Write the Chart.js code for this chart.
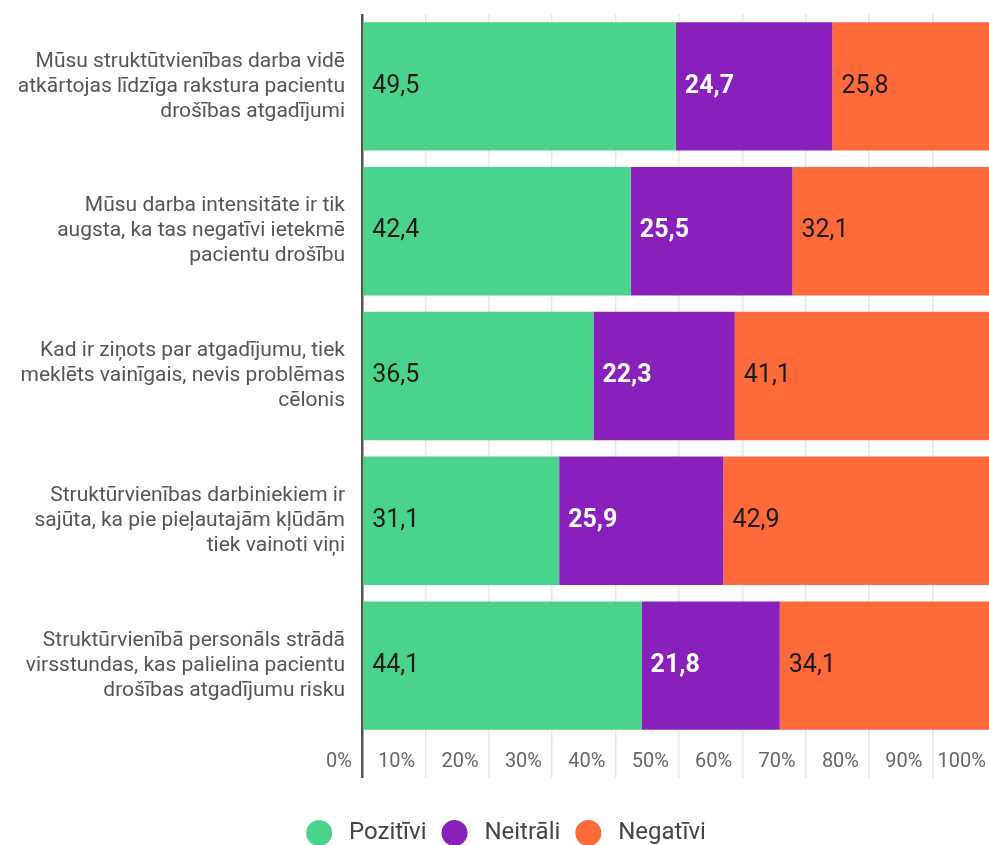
<!DOCTYPE html>
<html>
<head>
<meta charset="utf-8">
<script src="https://cdn.jsdelivr.net/npm/chart.js@4"></script>
<style>
  html, body { margin:0; padding:0; background:#fff; overflow:hidden; width:989px; height:845px; }
  canvas { display:block; }
</style>
</head>
<body>
<canvas id="chart" width="1000" height="845"></canvas>
<script>
// ── data ────────────────────────────────────────────────
const CATEGORIES = [
  ["Mūsu struktūtvienības darba vidē", "atkārtojas līdzīga rakstura pacientu", "drošības atgadījumi"],
  ["Mūsu darba intensitāte ir tik", "augsta, ka tas negatīvi ietekmē", "pacientu drošību"],
  ["Kad ir ziņots par atgadījumu, tiek", "meklēts vainīgais, nevis problēmas", "cēlonis"],
  ["Struktūrvienības darbiniekiem ir", "sajūta, ka pie pieļautajām kļūdām", "tiek vainoti viņi"],
  ["Struktūrvienībā personāls strādā", "virsstundas, kas palielina pacientu", "drošības atgadījumu risku"],
];
const SERIES = ["Pozitīvi", "Neitrāli", "Negatīvi"];
const POZITIVI = [49.5, 42.4, 36.5, 31.1, 44.1];
const NEITRALI = [24.7, 25.5, 22.3, 25.9, 21.8];
const NEGATIVI = [25.8, 32.1, 41.1, 42.9, 34.1];
const X_TICKS = [0, 10, 20, 30, 40, 50, 60, 70, 80, 90, 100];

const COLORS = ["#4ad48b", "#8a20bb", "#ff6a3a"];
const LABEL_COLORS = ["#1a1a1a", "#ffffff", "#1a1a1a"];
const FONT = "Roboto";

// value labels inside each segment, left aligned
const segLabels = {
  id: "segLabels",
  afterDatasetsDraw(chart){
    const ctx = chart.ctx;
    ctx.save();
    ctx.textAlign = "left";
    ctx.textBaseline = "middle";
    chart.data.datasets.forEach((ds, di) => {
      const meta = chart.getDatasetMeta(di);
      ctx.fillStyle = LABEL_COLORS[di];
      ctx.font = (di === 1 ? "bold " : "") + "25px " + FONT;
      meta.data.forEach((bar, i) => {
        const p = bar.getProps(["x", "y", "base"], true);
        const left = Math.min(p.x, p.base);
        ctx.fillText(ds.data[i].toFixed(1).replace(".", ","), left + 9, p.y);
      });
    });
    ctx.restore();
  }
};

new Chart(document.getElementById("chart"), {
  type: "bar",
  data: {
    labels: CATEGORIES,
    datasets: [POZITIVI, NEITRALI, NEGATIVI].map((d, i) => ({
      label: SERIES[i],
      data: d,
      backgroundColor: COLORS[i],
      borderWidth: 0,
      barPercentage: 0.887,
      categoryPercentage: 1,
    })),
  },
  options: {
    indexAxis: "y",
    responsive: false,
    animation: false,
    layout: { padding: { top: 14, right: 4, left: 16, bottom: -10 } },
    scales: {
      x: {
        stacked: true, min: 0, max: 100,
        afterBuildTicks: s => { s.ticks = X_TICKS.map(v => ({ value: v })); },
        afterFit: s => { s.height = 68; },
        border: { display: false },
        grid: {
          color: c => c.index === 0 ? "#555555" : "#e8e8e8",
          lineWidth: c => c.index === 0 ? 2.5 : 1.5,
          drawTicks: true, tickLength: 40,
        },
        ticks: {
          align: "end", padding: -28, maxRotation: 0, minRotation: 0, autoSkip: false,
          color: "#666", font: { family: FONT, size: 20 },
          callback: v => v + "%\u2002",
        },
      },
      y: {
        stacked: true,
        afterFit: s => { s.width = 346; s.paddingTop = 0; s.paddingBottom = 0; },
        border: { display: false },
        grid: { display: false, drawTicks: false },
        ticks: { padding: 17, color: "#555", font: { family: FONT, size: 21, lineHeight: 1.19 } },
      },
    },
    plugins: {
      tooltip: { enabled: false },
      legend: {
        position: "bottom",
        labels: {
          usePointStyle: true, pointStyle: "circle",
          pointStyleWidth: 26, boxHeight: 18.4,
          color: "#444", font: { family: FONT, size: 24 }, padding: 15,
          generateLabels: chart => Chart.defaults.plugins.legend.labels.generateLabels(chart)
            .map(l => ({ ...l, text: "\u2009" + l.text, lineWidth: 0 })),
        },
      },
    },
  },
  plugins: [segLabels],
});
</script>
</body>
</html>
